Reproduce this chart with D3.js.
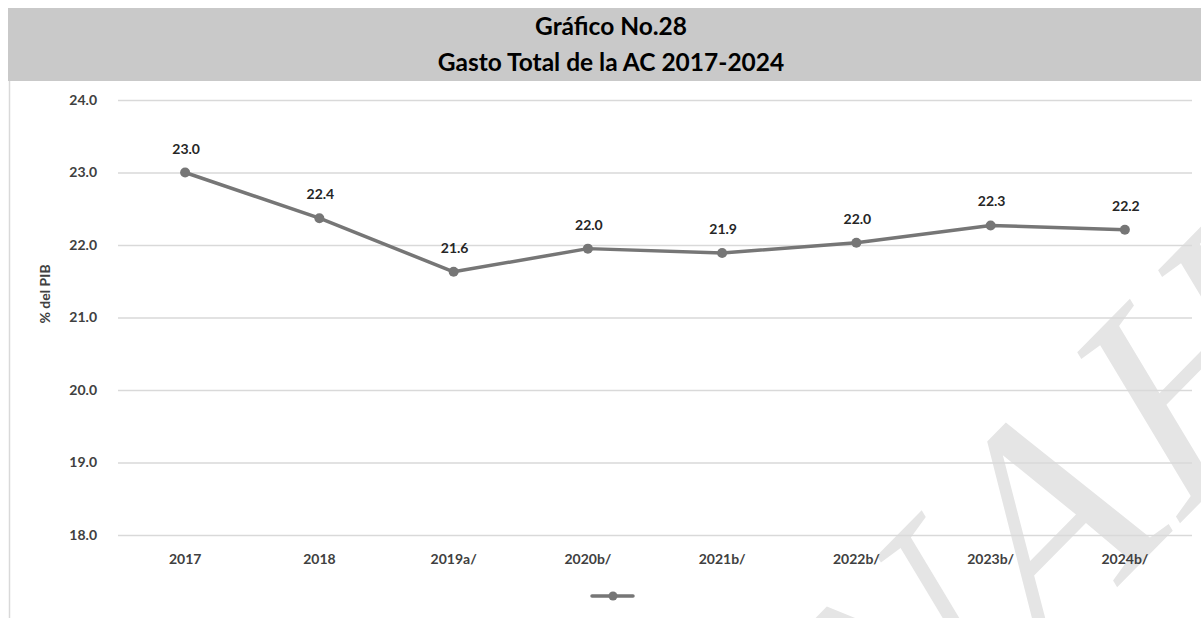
<!DOCTYPE html>
<html><head><meta charset="utf-8">
<script src="https://cdn.jsdelivr.net/npm/d3@7"></script>
<style>
html,body{margin:0;padding:0;background:#fff;}
svg{display:block;font-family:Lato,"Open Sans",sans-serif;}
</style></head>
<body>
<svg id="chart" width="1201" height="618"></svg>
<script>
const categories = ["2017","2018","2019a/","2020b/","2021b/","2022b/","2023b/","2024b/"];
const values = [23.0, 22.37, 21.63, 21.95, 21.89, 22.03, 22.27, 22.21];
const labels = ["23.0","22.4","21.6","22.0","21.9","22.0","22.3","22.2"];
const yTicks = [18,19,20,21,22,23,24];
const titleLines = ["Gráfico No.28","Gasto Total de la AC 2017-2024"];
const yAxisTitle = "% del PIB";
const watermark = "NAH";

const svg = d3.select("#chart");
const W = 1201, H = 618;
const m = {left:118, right:1192, top:100, bottom:535};

// watermark (behind the chart)
svg.append("text")
  .attr("transform","translate(884,824) scale(1,1.3) rotate(-38)")
  .attr("font-family","'Liberation Serif','DejaVu Serif',serif")
  .attr("font-size",255)
  .attr("fill","#e5e5e5")
  .text(watermark);

// header
svg.append("rect").attr("x",8).attr("y",8).attr("width",W-8).attr("height",73).attr("fill","#c9c9c9");
svg.selectAll(".title").data(titleLines).join("text")
  .attr("x",611).attr("y",(d,i)=>35+i*36)
  .attr("text-anchor","middle").attr("font-weight","bold").attr("font-size",24.5)
  .attr("fill","#000").text(d=>d);

// left border
svg.append("line").attr("x1",9.5).attr("x2",9.5).attr("y1",81).attr("y2",H).attr("stroke","#d9d9d9").attr("stroke-width",1.5);

const x = d3.scaleBand().domain(categories).range([m.left,m.right]);
const y = d3.scaleLinear().domain([18,24]).range([m.bottom,m.top]);

// gridlines + y ticks
const yAxis = d3.axisLeft(y).tickValues(yTicks).tickSize(-(m.right-m.left)).tickFormat(d3.format(".1f"));
const gy = svg.append("g").attr("transform",`translate(${m.left},0)`).call(yAxis);
gy.select(".domain").remove();
gy.selectAll(".tick line").attr("stroke","#d9d9d9").attr("stroke-width",1.3);
gy.selectAll(".tick text").attr("x",-21).attr("font-size",14).attr("font-weight","bold")
  .attr("fill","#404040").attr("font-family","Lato,sans-serif");

// x axis
const xAxis = d3.axisBottom(x).tickSize(0);
const gx = svg.append("g").attr("transform",`translate(0,${m.bottom})`).call(xAxis);
gx.select(".domain").remove();
gx.selectAll(".tick text").attr("dy","1.85em").attr("font-size",14).attr("font-weight","bold")
  .attr("fill","#404040").attr("font-family","Lato,sans-serif");

// y title
svg.append("text").attr("transform","translate(50,294) rotate(-90)")
  .attr("text-anchor","middle").attr("font-size",14).attr("font-weight","bold").attr("fill","#404040")
  .text(yAxisTitle);

const cx = d => x(d) + x.bandwidth()/2;
const data = categories.map((c,i)=>({c, v:values[i], l:labels[i]}));

svg.append("path").datum(data)
  .attr("d", d3.line().x(d=>cx(d.c)).y(d=>y(d.v)))
  .attr("fill","none").attr("stroke","#767676").attr("stroke-width",3.5).attr("stroke-linejoin","round");
svg.selectAll(".pt").data(data).join("circle")
  .attr("cx",d=>cx(d.c)).attr("cy",d=>y(d.v)).attr("r",5).attr("fill","#767676");
svg.selectAll(".lbl").data(data).join("text")
  .attr("x",d=>cx(d.c)+1).attr("y",d=>y(d.v)-19)
  .attr("text-anchor","middle").attr("font-size",14).attr("font-weight","bold").attr("fill","#262626")
  .text(d=>d.l);

// legend
const lg = svg.append("g").attr("transform","translate(592,596)");
lg.append("line").attr("x1",0).attr("x2",41).attr("stroke","#767676").attr("stroke-width",3.5).attr("stroke-linecap","round");
lg.append("circle").attr("cx",21).attr("r",4.5).attr("fill","#767676");
</script>
</body></html>
